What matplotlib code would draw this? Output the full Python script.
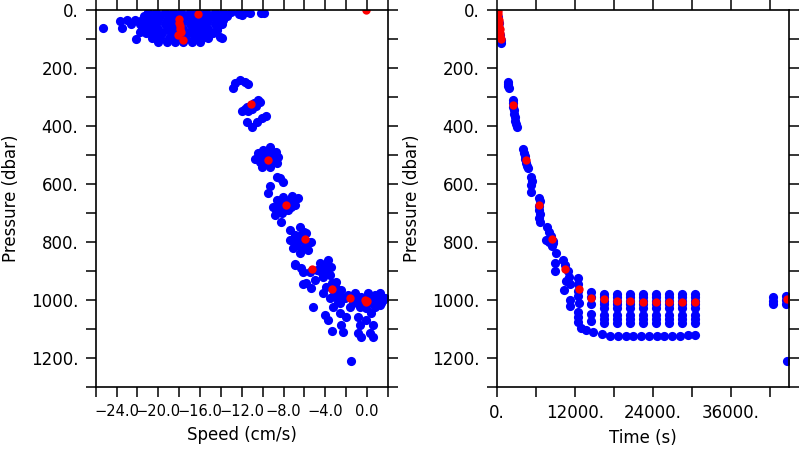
import numpy as np
import matplotlib
matplotlib.use('Agg')
import matplotlib.pyplot as plt
from matplotlib.ticker import MultipleLocator, FuncFormatter

# Near-surface cloud in the speed panel: one row of speeds per pressure level
cloud_pres = [6, 20, 35, 50, 65, 80, 95, 110]
cloud_speed = [
    [-21.0, -20.2, -19.4, -18.6, -17.8, -17.0, -16.2, -15.4, -14.6, -13.8, -13.0, -12.3, -11.5],
    [-21.4, -20.6, -19.8, -19.0, -18.2, -17.4, -16.6, -15.8, -15.0, -14.2, -13.4],
    [-23.0, -22.2, -21.6, -20.8, -20.0, -19.2, -18.4, -17.6, -16.8, -16.0, -15.2, -14.4, -13.8],
    [-22.6, -21.8, -21.0, -20.2, -19.4, -18.6, -17.8, -17.0, -16.2, -15.4, -14.6],
    [-21.6, -20.8, -20.0, -19.2, -18.4, -17.6, -16.8, -16.0, -15.2, -14.4],
    [-21.2, -20.4, -19.6, -18.8, -18.0, -17.2, -16.4, -15.6, -14.8],
    [-20.6, -19.8, -19.0, -18.2, -17.4, -16.6, -15.8, -15.2],
    [-20.0, -19.2, -18.4, -17.6, -16.8, -16.0],
]

# Remaining speed samples (speed cm/s, pressure dbar)
speed_blue = [
    (-25.3, 61), (-23.7, 38), (-23.5, 63), (-22.1, 100), (-21.8, 77), (-13.9, 95), (-14.1, 92),
    (-13.9, 48), (-14.4, 69), (-12.3, 14), (-11.2, 11), (-10.2, 11), (-9.9, 11), (-12.0, 18),
    (-12.83, 270), (-12.67, 253), (-12.19, 241), (-11.71, 247), (-11.4, 255),
    (-12.0, 350), (-11.7, 343), (-11.5, 335), (-11.1, 328), (-10.8, 320), (-10.5, 312),
    (-11.4, 348), (-11.0, 340), (-10.6, 330), (-10.3, 316),
    (-11.55, 385), (-11.07, 402), (-10.59, 385), (-10.11, 373), (-9.64, 366),
    (-10.76, 514), (-10.44, 494), (-9.96, 483), (-9.32, 473), (-8.76, 489), (-8.53, 506),
    (-8.68, 529), (-9.32, 542), (-10.11, 540), (-10.28, 523), (-9.64, 506), (-9.16, 517), (-9.80, 529),
    (-9.9, 500), (-9.1, 492), (-8.9, 520), (-9.6, 488), (-10.3, 505),
    (-8.68, 575), (-8.36, 580), (-8.05, 592), (-9.32, 607), (-9.48, 632),
    (-9.0, 678), (-8.68, 655), (-8.05, 644), (-7.24, 641), (-6.61, 649), (-6.93, 672), (-7.57, 690),
    (-8.20, 701), (-8.84, 707), (-8.27, 730), (-8.5, 690), (-7.6, 660),
    (-8.3, 665), (-7.2, 658), (-7.9, 685), (-8.7, 690), (-7.3, 680),
    (-7.41, 759), (-6.45, 747), (-5.81, 770), (-5.33, 799), (-5.65, 828), (-6.45, 839), (-7.09, 822),
    (-7.41, 793), (-6.29, 793), (-6.77, 810), (-5.97, 816), (-6.9, 775), (-6.0, 765),
    (-6.3, 775), (-5.7, 800), (-6.9, 800), (-6.2, 825),
    (-6.93, 879), (-6.29, 891), (-5.49, 902), (-4.54, 873), (-3.74, 862), (-3.42, 885), (-4.22, 914),
    (-5.01, 931), (-6.13, 946), (-6.93, 876), (-6.13, 902), (-5.81, 943), (-5.33, 960), (-4.8, 895), (-4.0, 880),
    (-4.5, 900), (-3.9, 898),
    (-4.22, 920), (-3.58, 914), (-2.94, 937), (-2.46, 966), (-2.14, 994), (-2.78, 1006), (-3.58, 994),
    (-4.22, 977), (-3.90, 954), (-3.26, 966), (-2.62, 983), (-3.4, 940), (-3.0, 960), (-3.1, 985),
    (-1.83, 983), (-1.19, 977), (-0.55, 989), (0.09, 977), (0.73, 983), (1.21, 977), (1.68, 994),
    (1.37, 1011), (0.73, 1023), (-0.07, 1029), (-0.71, 1023), (-1.35, 1011), (-0.87, 1006), (0.25, 1006), (0.89, 1000),
    (-1.2, 995), (0.4, 992), (1.0, 1012), (-0.3, 1015),
    (-5.17, 1023), (-4.06, 1052), (-3.74, 1069), (-3.32, 1106), (-2.62, 1046), (-2.46, 1086), (-1.98, 1057),
    (-2.31, 1109), (-1.66, 1023), (-1.50, 1209), (-0.87, 1057), (-0.71, 1086), (-0.87, 1115), (-0.55, 1127),
    (-0.07, 1069), (0.25, 1115), (0.57, 1127), (0.41, 1046), (0.57, 1086), (1.21, 1017), (1.37, 1006),
    (0.89, 1000), (1.52, 1000), (-3.26, 1023), (-2.62, 1011),
]

speed_red = [
    (-18.0, 30), (-18.0, 45), (-17.9, 55), (-17.9, 65), (-17.8, 75), (-18.1, 85), (-17.6, 103),
    (-16.2, 15), (-0.07, 0), (-11.14, 325), (-9.54, 517), (-7.8, 672), (-5.97, 791), (-5.27, 894),
    (-3.36, 962), (-1.64, 992), (-0.23, 1000), (0.0, 1003), (-0.1, 1006),
]

# Time panel (time s, pressure dbar)
time_blue = [
    (100, 8), (200, 25), (300, 45), (400, 65), (500, 85), (600, 105), (660, 115),
    (1750, 247), (1790, 255), (1800, 262), (1830, 270),
    (2450, 310), (2500, 322), (2550, 335), (2650, 345), (2700, 358), (2800, 370), (2850, 382), (2950, 393), (3050, 402),
    (4100, 480), (4150, 492), (4300, 503), (4400, 515), (4500, 527), (4650, 538), (4800, 545),
    (5350, 575), (5400, 590), (5350, 605), (5300, 628),
    (6500, 647), (6600, 660), (6550, 675), (6500, 690), (6600, 705), (6550, 718), (6600, 732),
    (7750, 748), (8000, 765), (8300, 780), (8600, 795), (8700, 805),
    (7650, 793), (8100, 800), (8500, 815), (9100, 839), (8970, 873), (8970, 900),
    (10240, 862), (10500, 880), (10900, 900), (11100, 920), (10600, 935), (11270, 945), (10300, 966),
    (11270, 1000), (11270, 1020),
    (12550, 924), (12550, 945), (12550, 970), (12550, 985), (12600, 1010), (12550, 1040), (12550, 1060),
    (12550, 1075), (13000, 1095), (13730, 1103),
    (14500, 972), (14500, 990), (14500, 1015), (14500, 1050), (14500, 1072),
    (42550, 990), (42550, 1002), (42550, 1015), (44600, 985), (44600, 1000), (44600, 1015), (44750, 1209),
]

# Bottom stops: each has a column of samples at the same levels
stop_times = [16550, 18550, 20500, 22550, 24500, 26550, 28500, 30500]
stop_pres = [978, 990, 1002, 1014, 1026, 1052, 1064, 1078]

# Deepest row of samples along the bottom
bottom_time = [14860, 16150, 17430, 18710, 19890, 21010, 22190, 23420, 24610, 25780, 27010, 28190, 29380, 30500]
bottom_pres = [1109, 1118, 1124, 1124, 1125, 1125, 1125, 1124, 1124, 1125, 1124, 1124, 1122, 1120]

time_red = [
    (150, 5), (200, 15), (250, 26), (300, 36), (350, 46), (400, 57), (450, 67), (500, 78), (550, 88), (600, 99),
    (2550, 328), (4500, 517), (6550, 672), (8500, 790), (10550, 894), (12600, 961), (14500, 992),
    (16550, 998), (18550, 1002), (20500, 1002), (22550, 1007), (24500, 1006), (26550, 1007),
    (28500, 1008), (30500, 1006), (44750, 998),
]

plt.rcParams['font.family'] = 'DejaVu Sans'
plt.rcParams['font.size'] = 12

fig = plt.figure(figsize=(8, 4.5), dpi=100)
ax1 = fig.add_axes([0.1196, 0.14, 0.3654, 0.8378])
ax2 = fig.add_axes([0.6209, 0.14, 0.3654, 0.8378])

blue_ms = 6.6
red_ms = 6.0

# Speed panel
for p, row in zip(cloud_pres, cloud_speed):
    ax1.plot(row, [p] * len(row), 'o', color='#0000ff', ms=blue_ms, mew=0)
sb = np.array(speed_blue)
ax1.plot(sb[:, 0], sb[:, 1], 'o', color='#0000ff', ms=blue_ms, mew=0)
sr = np.array(speed_red)
ax1.plot(sr[:, 0], sr[:, 1], 'o', color='#ff0000', ms=red_ms, mew=0)

# Time panel
tb = np.array(time_blue)
ax2.plot(tb[:, 0], tb[:, 1], 'o', color='#0000ff', ms=blue_ms, mew=0)
for t in stop_times:
    ax2.plot([t] * len(stop_pres), stop_pres, 'o', color='#0000ff', ms=blue_ms, mew=0)
ax2.plot(bottom_time, bottom_pres, 'o', color='#0000ff', ms=blue_ms, mew=0)
tr = np.array(time_red)
ax2.plot(tr[:, 0], tr[:, 1], 'o', color='#ff0000', ms=red_ms, mew=0)

def pres_fmt(v, pos):
    return '%d.' % v

def speed_fmt(v, pos):
    return ('%.1f' % v).replace('-', '\u2212')

def time_fmt(v, pos):
    return '%d.' % v

for ax in (ax1, ax2):
    ax.set_ylim(1300, 0)
    ax.yaxis.set_major_locator(MultipleLocator(200))
    ax.yaxis.set_minor_locator(MultipleLocator(100))
    ax.yaxis.set_major_formatter(FuncFormatter(pres_fmt))
    ax.set_ylabel('Pressure (dbar)', labelpad=8)
    for s in ax.spines.values():
        s.set_linewidth(1.2)
    ax.tick_params(which='both', direction='out', length=7.5, width=1.1,
                   top=True, right=True, labeltop=False, labelright=False,
                   colors='black', labelsize=12, pad=5)

ax1.set_xlim(-26, 2)
ax1.xaxis.set_major_locator(MultipleLocator(4))
ax1.xaxis.set_minor_locator(MultipleLocator(2))
ax1.xaxis.set_major_formatter(FuncFormatter(speed_fmt))
ax1.tick_params(axis='x', labelsize=10.5)
ax1.set_xlabel('Speed (cm/s)', labelpad=5)

ax2.set_xlim(0, 45000)
ax2.xaxis.set_major_locator(MultipleLocator(12000))
ax2.xaxis.set_minor_locator(MultipleLocator(6000))
ax2.xaxis.set_major_formatter(FuncFormatter(time_fmt))
ax2.set_xlabel('Time (s)', labelpad=5)

fig.savefig('out.png', dpi=100)
